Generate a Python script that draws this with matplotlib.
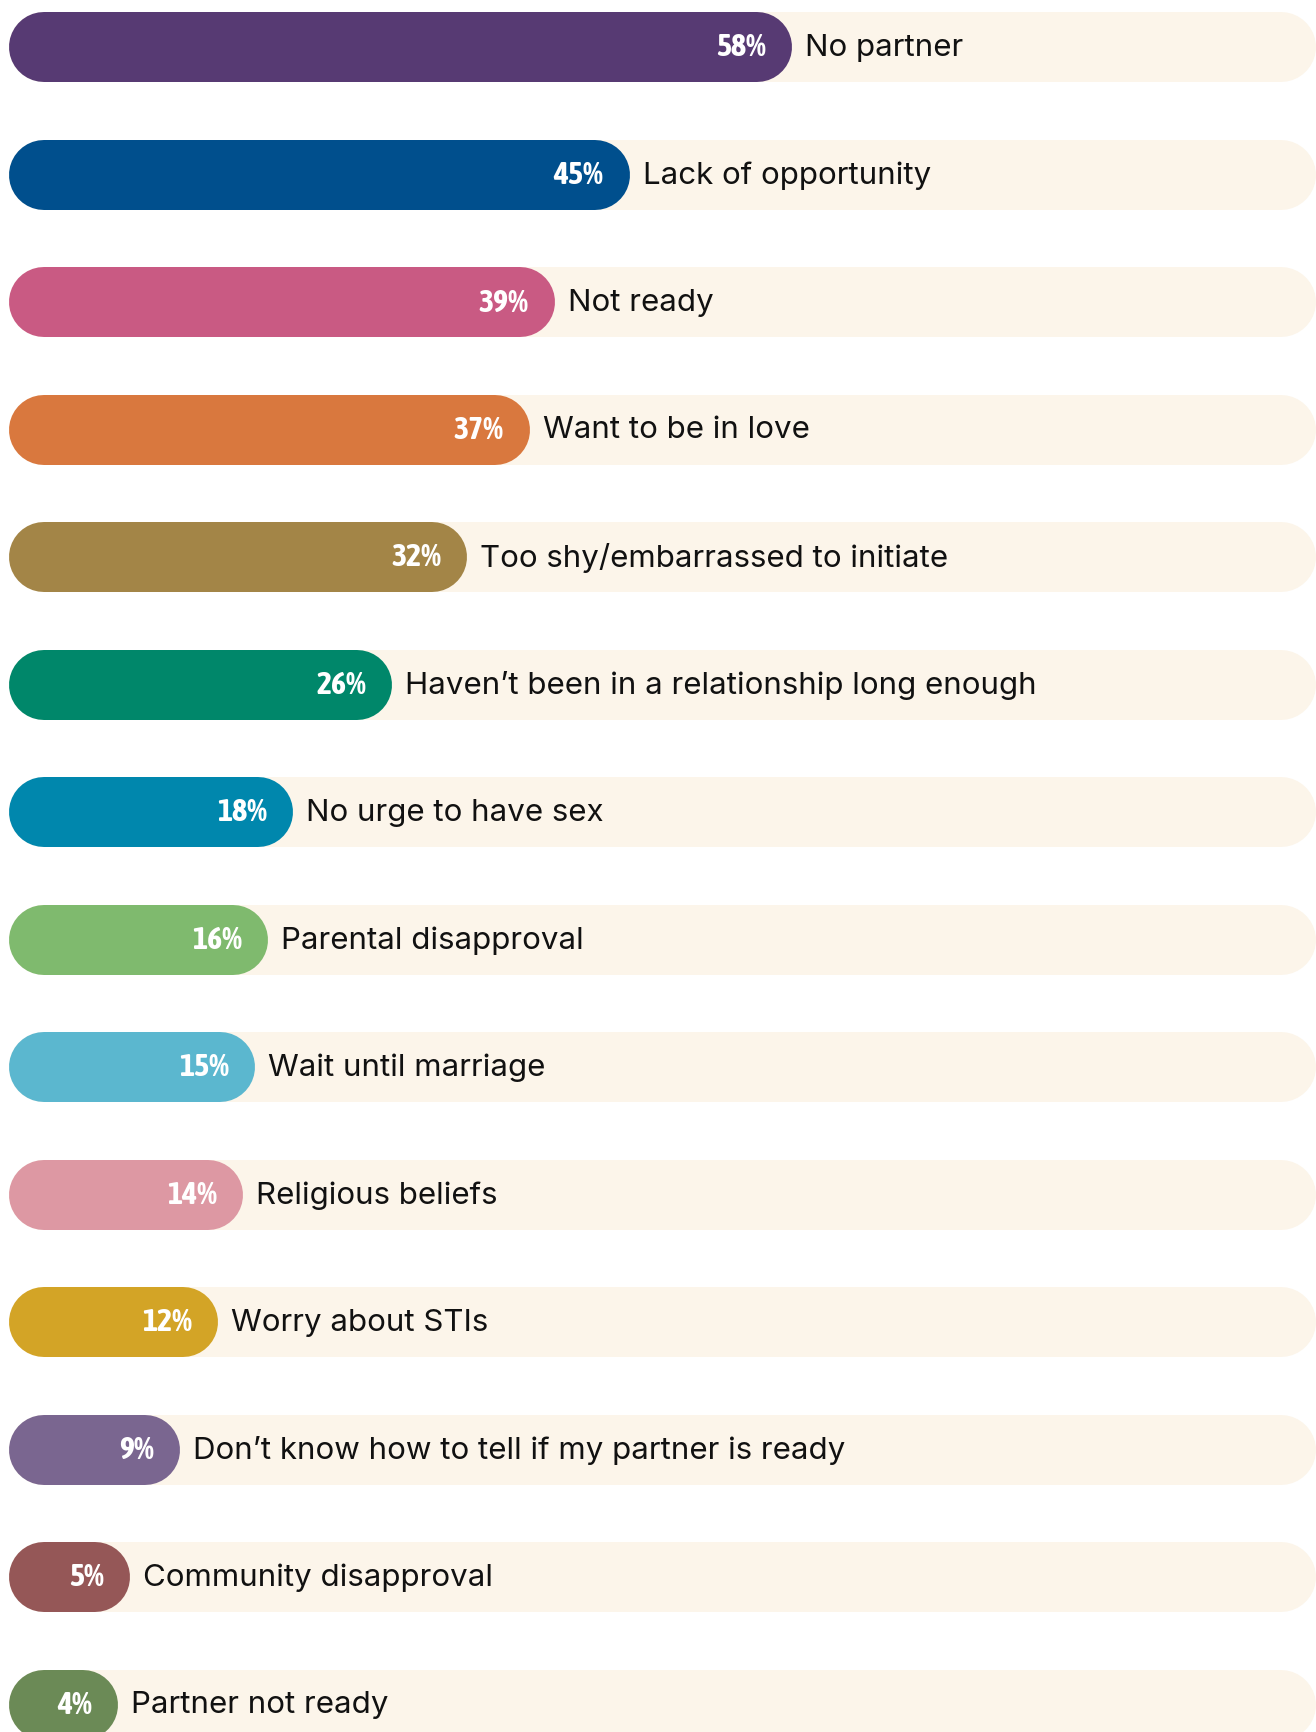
import matplotlib
matplotlib.use("Agg")
import matplotlib.pyplot as plt
from matplotlib import font_manager

# Reasons for not having sex (share of respondents, %)
categories = [
    "No partner",
    "Lack of opportunity",
    "Not ready",
    "Want to be in love",
    "Too shy/embarrassed to initiate",
    "Haven\u2019t been in a relationship long enough",
    "No urge to have sex",
    "Parental disapproval",
    "Wait until marriage",
    "Religious beliefs",
    "Worry about STIs",
    "Don\u2019t know how to tell if my partner is ready",
    "Community disapproval",
    "Partner not ready",
]
values = [58, 45, 39, 37, 32, 26, 18, 16, 15, 14, 12, 9, 5, 4]
colors = [
    "#573A73", "#004F8D", "#C95A83", "#D9783E", "#A38547", "#00876A",
    "#0087AD", "#7FBA6E", "#5BB7CF", "#DD98A3", "#D3A426", "#7A6690",
    "#955757", "#6B8A56",
]
track_max = 100
track_color = "#FCF5EA"

W, H, DPI = 1316, 1733, 100
fig = plt.figure(figsize=(W / DPI, H / DPI), dpi=DPI)
ax = fig.add_axes([0, 0, 1, 1])
ax.set_axis_off()

bar_px = 70                      # bar thickness in pixels
lw = bar_px * 72 / DPI           # as a line width in points
cap = bar_px / 2
x0_px, x100_px = 33, W - cap     # where 0 % and 100 % fall
scale = (x100_px - x0_px) / track_max
ax.set_xlim(-x0_px / scale, (W - x0_px) / scale)
# every pill starts at the same point so its rounded left end stays visible
start = (9 + cap - x0_px) / scale

row_px, first_px = 127.5, 48
ax.set_ylim((H - first_px) / row_px, -first_px / row_px)


def weight_num(w):
    if isinstance(w, (int, float)):
        return w
    return font_manager.weight_dict.get(str(w).lower(), 400)


fonts = font_manager.fontManager.ttflist
avail = {f.name for f in fonts}
label_font = [n for n in ["Inter", "Open Sans"] if n in avail] + ["DejaVu Sans"]

# a narrow face that also comes in bold, for the value labels
narrow_bold = sorted({f.name for f in fonts
                      if ("Condensed" in f.name or "Narrow" in f.name)
                      and weight_num(f.weight) >= 600})
if narrow_bold:
    pct_font, pct_stretch = narrow_bold[:1] + ["DejaVu Sans"], "normal"
else:
    pct_font, pct_stretch = ["DejaVu Sans"], "condensed"

gap_label = 13 / scale
gap_pct = 26 / scale

for i, (cat, v, c) in enumerate(zip(categories, values, colors)):
    ax.plot([start, track_max], [i, i], color=track_color, lw=lw,
            solid_capstyle="round", zorder=1)
    ax.plot([start, v], [i, i], color=c, lw=lw, solid_capstyle="round",
            zorder=2)
    end = v + cap / scale
    ax.text(end - gap_pct, i, f"{v}%", ha="right", va="center",
            color="white", fontsize=23, fontweight="bold",
            fontstretch=pct_stretch, family=pct_font, zorder=3)
    ax.text(end + gap_label, i, cat, ha="left", va="center",
            color="#111111", fontsize=22.5, family=label_font, zorder=3)

fig.savefig("out.png", dpi=DPI, facecolor="white")
